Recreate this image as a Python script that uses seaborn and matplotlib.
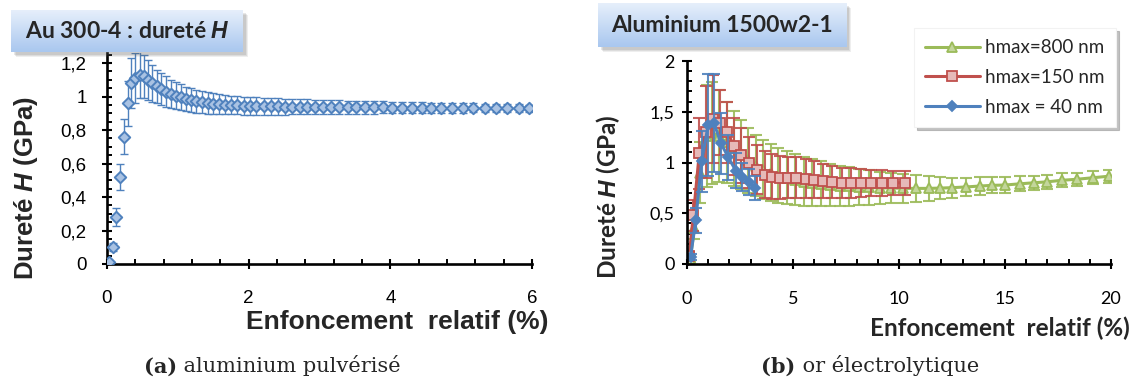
import matplotlib
matplotlib.use("Agg")
import matplotlib.pyplot as plt
import seaborn as sns
import numpy as np
from matplotlib.ticker import MultipleLocator, FuncFormatter
from matplotlib.patches import Rectangle
from matplotlib.colors import LinearSegmentedColormap
from matplotlib.offsetbox import TextArea, HPacker, AnnotationBbox

# (a) Au 300-4 : relative depth (%) / hardness (GPa) / std
x_au = [0.03, 0.08, 0.13, 0.18, 0.24, 0.29, 0.34, 0.40, 0.46, 0.52,
        0.58, 0.64, 0.70, 0.76, 0.83, 0.90, 0.97, 1.04, 1.11, 1.18,
        1.26, 1.34, 1.42, 1.50, 1.58, 1.66, 1.75, 1.84, 1.93, 2.02,
        2.11, 2.21, 2.31, 2.41, 2.51, 2.61, 2.72, 2.83, 2.94, 3.05,
        3.16, 3.28, 3.40, 3.52, 3.64, 3.77, 3.90, 4.03, 4.16, 4.30,
        4.44, 4.58, 4.72, 4.87, 5.02, 5.17, 5.33, 5.49, 5.65, 5.81,
        5.96]
h_au = [0.014, 0.10, 0.28, 0.52, 0.76, 0.96, 1.08, 1.11, 1.13, 1.12,
        1.10, 1.08, 1.06, 1.045, 1.03, 1.015, 1.005, 0.995, 0.985, 0.978,
        0.972, 0.967, 0.962, 0.958, 0.955, 0.952, 0.950, 0.948, 0.946, 0.945,
        0.944, 0.943, 0.942, 0.941, 0.940, 0.940, 0.939, 0.938, 0.938, 0.937,
        0.937, 0.936, 0.936, 0.936, 0.935, 0.935, 0.935, 0.934, 0.934, 0.934,
        0.933, 0.933, 0.933, 0.932, 0.932, 0.932, 0.931, 0.931, 0.931, 0.930,
        0.930]
e_au = [0.010, 0.025, 0.055, 0.078, 0.105, 0.135, 0.150, 0.150, 0.140, 0.130,
        0.120, 0.110, 0.100, 0.095, 0.090, 0.085, 0.080, 0.077, 0.074, 0.071,
        0.068, 0.066, 0.064, 0.062, 0.060, 0.058, 0.056, 0.055, 0.054, 0.053,
        0.052, 0.051, 0.050, 0.049, 0.048, 0.047, 0.046, 0.045, 0.044, 0.043,
        0.042, 0.041, 0.040, 0.039, 0.038, 0.037, 0.036, 0.035, 0.034, 0.033,
        0.032, 0.031, 0.030, 0.029, 0.028, 0.027, 0.026, 0.025, 0.024, 0.023,
        0.022]

# (b) Aluminium 1500w2-1, three hmax
x_800 = [0.15, 0.35, 0.60, 0.93, 1.20, 1.50, 1.87, 2.20, 2.55, 2.90,
         3.25, 3.60, 3.95, 4.30, 4.70, 5.10, 5.50, 5.90, 6.30, 6.75,
         7.20, 7.65, 8.10, 8.60, 9.10, 9.60, 10.20, 10.80, 11.40, 11.95,
         12.50, 13.15, 13.80, 14.40, 15.00, 15.70, 16.35, 17.00, 17.70, 18.40,
         19.15, 19.90]
h_800 = [0.05, 0.35, 0.90, 1.26, 1.29, 1.26, 1.20, 1.14, 1.08, 1.02,
         0.97, 0.93, 0.90, 0.87, 0.85, 0.83, 0.81, 0.80, 0.79, 0.78,
         0.77, 0.765, 0.76, 0.755, 0.75, 0.75, 0.745, 0.745, 0.745, 0.748,
         0.752, 0.759, 0.768, 0.775, 0.778, 0.79, 0.80, 0.81, 0.825, 0.835,
         0.85, 0.865]
e_800 = [0.03, 0.10, 0.30, 0.50, 0.50, 0.45, 0.40, 0.37, 0.34, 0.32,
         0.30, 0.29, 0.28, 0.27, 0.26, 0.25, 0.24, 0.23, 0.22, 0.21,
         0.20, 0.19, 0.18, 0.17, 0.16, 0.15, 0.14, 0.13, 0.12, 0.11,
         0.10, 0.09, 0.085, 0.08, 0.08, 0.075, 0.07, 0.07, 0.07, 0.065,
         0.065, 0.065]

x_150 = [0.10, 0.30, 0.58, 0.90, 1.24, 1.55, 1.90, 2.22, 2.57, 2.93,
         3.30, 3.67, 4.03, 4.40, 4.78, 5.15, 5.60, 6.00, 6.40, 6.85,
         7.30, 7.75, 8.20, 8.70, 9.20, 9.70, 10.30]
h_150 = [0.08, 0.48, 1.09, 1.30, 1.43, 1.39, 1.30, 1.16, 1.07, 1.00,
         0.93, 0.88, 0.86, 0.85, 0.85, 0.85, 0.84, 0.83, 0.82, 0.81,
         0.80, 0.80, 0.80, 0.80, 0.80, 0.80, 0.80]
e_150 = [0.04, 0.15, 0.35, 0.45, 0.43, 0.32, 0.30, 0.28, 0.27, 0.25,
         0.24, 0.23, 0.22, 0.21, 0.20, 0.20, 0.19, 0.18, 0.17, 0.16,
         0.15, 0.15, 0.14, 0.13, 0.13, 0.12, 0.12]

x_40 = [0.17, 0.41, 0.69, 1.00, 1.27, 1.60, 1.95, 2.30, 2.60, 2.93, 3.20]
h_40 = [0.07, 0.43, 1.01, 1.37, 1.39, 1.19, 1.05, 0.92, 0.86, 0.81, 0.75]
e_40 = [0.03, 0.12, 0.30, 0.50, 0.48, 0.30, 0.22, 0.17, 0.14, 0.13, 0.12]

BLUE = "#4F81BD"
RED = "#C0504D"
GREEN = "#9BBB59"

sns.set_style("white")
plt.rcParams["font.family"] = ["Liberation Sans", "DejaVu Sans"]
plt.rcParams["mathtext.fontset"] = "custom"
plt.rcParams["mathtext.bfit"] = "Liberation Sans:italic:bold"
plt.rcParams["mathtext.it"] = "Liberation Sans:italic"
plt.rcParams["mathtext.rm"] = "Liberation Sans"
plt.rcParams["mathtext.bf"] = "Liberation Sans:bold"

W, H = 1136, 380
fig = plt.figure(figsize=(W / 100, H / 100), dpi=100)
ax1 = fig.add_axes([107 / W, (H - 264) / H, 425 / W, 211 / H])
ax2 = fig.add_axes([687 / W, (H - 264) / H, 424 / W, 203 / H])

comma = FuncFormatter(lambda v, p: f"{v:g}".replace(".", ","))

# ---- (a)
ax1.errorbar(x_au, h_au, yerr=e_au, fmt="none", ecolor=BLUE, elinewidth=1.0,
             capsize=3, capthick=1.0, zorder=2)
sns.scatterplot(x=x_au, y=h_au, ax=ax1, marker="D", s=34, color="#A9C2E3",
                edgecolor=BLUE, linewidth=1.4, zorder=3)
ax1.set_xlim(0, 6)
ax1.set_ylim(0, 1.26)
ax1.xaxis.set_major_locator(MultipleLocator(2))
ax1.xaxis.set_minor_locator(MultipleLocator(0.4))
ax1.yaxis.set_major_locator(MultipleLocator(0.2))
ax1.yaxis.set_minor_locator(MultipleLocator(0.05))
ax1.yaxis.set_major_formatter(comma)
ax1.tick_params(axis="x", which="major", pad=15)
ax1.tick_params(axis="y", which="major", pad=11)
ax1.set_xlabel("Enfoncement  relatif (%)", fontsize=19, fontweight="bold")
ax1.set_ylabel("Dureté $\\mathbfit{H}$ (GPa)", fontsize=18.5, fontweight="bold")
ax1.xaxis.set_label_coords(0.682, -0.275)
ax1.xaxis.label.set_va("center")
ax1.yaxis.set_label_coords(-0.19, 0.36)
ax1.yaxis.label.set_va("center")
for t in ax1.get_xticklabels() + ax1.get_yticklabels():
    t.set_fontsize(13.5)

# ---- (b)
series = [(x_800, h_800, e_800, GREEN, "^", "#C3D69B", "hmax=800 nm", 6.5),
          (x_150, h_150, e_150, RED, "s", "#E6B9B8", "hmax=150 nm", 6.5),
          (x_40, h_40, e_40, BLUE, "D", BLUE, "hmax = 40 nm", 5.5)]
for xs, hs, es, col, mk, fc, lab, ms in series:
    ax2.errorbar(xs, hs, yerr=es, fmt="none", ecolor=col, elinewidth=1.5,
                 capsize=4.5, capthick=1.5, alpha=0.9)
    sns.lineplot(x=xs, y=hs, ax=ax2, color=col, linewidth=2.2, marker=mk,
                 markersize=ms, markerfacecolor=fc, markeredgecolor=col,
                 markeredgewidth=1.3, label=lab)
ax2.set_xlim(0, 20)
ax2.set_ylim(0, 2)
ax2.xaxis.set_major_locator(MultipleLocator(5))
ax2.xaxis.set_minor_locator(MultipleLocator(1))
ax2.yaxis.set_major_locator(MultipleLocator(0.5))
ax2.yaxis.set_minor_locator(MultipleLocator(0.1))
ax2.yaxis.set_major_formatter(comma)
ax2.tick_params(axis="x", which="major", pad=16)
ax2.tick_params(axis="y", which="major", pad=5)
ax2.set_xlabel("Enfoncement  relatif (%)", fontsize=17.5, fontweight="bold",
               family="Lato")
ax2.set_ylabel("Dureté $\\mathbfit{H}$ (GPa)", fontsize=17.5,
               fontweight="bold", family="Lato")
ax2.xaxis.set_label_coords(0.738, -0.315)
ax2.xaxis.label.set_va("center")
ax2.yaxis.set_label_coords(-0.185, 0.33)
ax2.yaxis.label.set_va("center")
for t in ax2.get_xticklabels() + ax2.get_yticklabels():
    t.set_fontsize(13)
    t.set_family("Lato")

leg = ax2.legend(loc="upper right", bbox_to_anchor=(1116 / W, (H - 28) / H),
                 bbox_transform=fig.transFigure, frameon=True, fancybox=False,
                 shadow={"color": "#9a9a9a", "alpha": 0.6}, handlelength=2.9,
                 handletextpad=0.3, labelspacing=0.68, borderpad=0.6,
                 borderaxespad=0, prop={"family": "Lato", "size": 13.5})
leg.get_frame().set_edgecolor("#f2f2f2")
leg.get_frame().set_linewidth(0.8)
leg.set_zorder(10)

for ax in (ax1, ax2):
    sns.despine(ax=ax)
    for s in ("left", "bottom"):
        ax.spines[s].set_linewidth(1.9)
        ax.spines[s].set_color("black")
    ax.tick_params(which="major", direction="inout", length=7.5, width=1.5,
                   color="black", labelcolor="black")
    ax.tick_params(which="minor", direction="in", length=3.5, width=1.4,
                   color="black")
    ax.tick_params(axis="x", which="both", bottom=True)
    ax.tick_params(axis="y", which="both", left=True)

# ---- title boxes with gradient
grad_cmap = LinearSegmentedColormap.from_list("g", ["#A9C7EF", "#E6EFFB"])


def title_box(x0, y0, x1, y1, text, fsize):
    for k, a in ((5, 0.10), (4, 0.12), (3, 0.15)):
        fig.add_artist(Rectangle(((x0 + k) / W, (H - y1 - k) / H),
                                 (x1 - x0) / W, (y1 - y0) / H,
                                 transform=fig.transFigure, facecolor="#606060",
                                 edgecolor="none", alpha=a, zorder=8))
    bax = fig.add_axes([x0 / W, (H - y1) / H, (x1 - x0) / W, (y1 - y0) / H])
    bax.set_zorder(9)
    bax.imshow(np.linspace(0, 1, 64).reshape(-1, 1), aspect="auto",
               cmap=grad_cmap, extent=[0, 1, 0, 1], origin="lower")
    bax.set_axis_off()
    bax.text(0.5, 0.48, text, ha="center", va="center", fontsize=fsize,
             fontweight="bold", family="Lato", transform=bax.transAxes)


title_box(11, 10, 243, 52, "Au 300-4 : dureté $\\mathbfit{H}$", 16.5)
title_box(598, 3, 846, 47, "Aluminium 1500w2-1", 16.5)


# ---- sub captions
def caption(xc, yc, tag, rest):
    box = HPacker(children=[
        TextArea(tag, textprops=dict(family="DejaVu Serif", weight="bold", size=15)),
        TextArea(rest, textprops=dict(family="DejaVu Serif", size=15))],
        pad=0, sep=0, align="baseline")
    ab = AnnotationBbox(box, (xc / W, (H - yc) / H), xycoords="figure fraction",
                        frameon=False, box_alignment=(0.5, 0.5))
    fig.add_artist(ab)


caption(272, 366, "(a)", " aluminium pulvérisé")
caption(870, 366, "(b)", " or électrolytique")

fig.savefig("out.png", dpi=100)
